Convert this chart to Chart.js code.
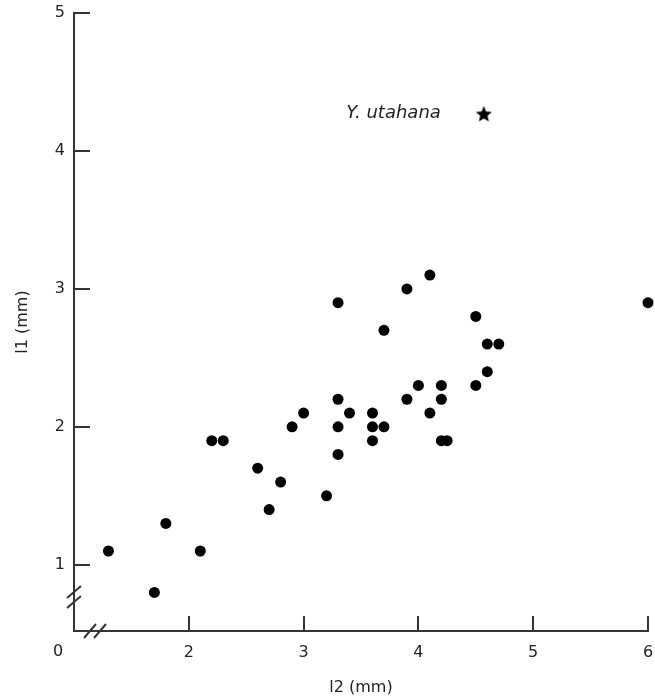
<!DOCTYPE html>
<html>
<head>
<meta charset="utf-8">
<script src="https://cdn.jsdelivr.net/npm/chart.js@4"></script>
<style>
  html, body { margin: 0; padding: 0; background: #fff; }
  #wrap { width: 655px; height: 698px; }
</style>
</head>
<body>
<div id="wrap"><canvas id="scatter"></canvas></div>
<script>
// l2 (x) and l1 (y) lengths in mm
const l2 = [1.3, 1.7, 1.8, 2.1, 2.2, 2.3, 2.6, 2.7, 2.8, 2.9, 3.0, 3.2, 3.3, 3.3, 3.3, 3.3, 3.4, 3.6, 3.6,
            3.6, 3.7, 3.7, 3.9, 3.9, 4.0, 4.1, 4.1, 4.2, 4.2, 4.2, 4.25, 4.5, 4.5, 4.6, 4.6, 4.7, 6.0];
const l1 = [1.1, 0.8, 1.3, 1.1, 1.9, 1.9, 1.7, 1.4, 1.6, 2.0, 2.1, 1.5, 2.9, 2.2, 2.0, 1.8, 2.1, 2.1, 2.0,
            1.9, 2.7, 2.0, 3.0, 2.2, 2.3, 3.1, 2.1, 2.3, 2.2, 1.9, 1.9, 2.8, 2.3, 2.6, 2.4, 2.6, 2.9];

const utahanaX = [4.57];
const utahanaY = [4.27];
const utahanaLabel = 'Y. utahana';

const xTicks = [2, 3, 4, 5, 6];
const yTicks = [1, 2, 3, 4, 5];
const originLabel = '0';

const ink = '#222';
const axisColor = '#333';

function makeStar(size) {
    const c = document.createElement('canvas');
    c.width = size;
    c.height = size;
    const g = c.getContext('2d');
    const cx = size / 2, cy = size / 2 + 0.8;
    const outer = size / 2, inner = outer * 0.45;
    g.beginPath();
    for (let i = 0; i < 10; i++) {
        const r = i % 2 ? inner : outer;
        const a = -Math.PI / 2 + i * Math.PI / 5;
        g.lineTo(cx + r * Math.cos(a), cy + r * Math.sin(a));
    }
    g.closePath();
    g.fillStyle = '#000';
    g.fill();
    return c;
}

// inward tick marks, axis breaks, the origin "0" and the species label
const extras = {
    id: 'extras',
    afterDraw(chart) {
        const ctx = chart.ctx;
        const x = chart.scales.x, y = chart.scales.y;
        const x0 = chart.chartArea.left, y0 = chart.chartArea.bottom;
        ctx.save();
        ctx.strokeStyle = axisColor;
        ctx.lineWidth = 2;
        ctx.beginPath();
        xTicks.forEach(v => {
            const px = Math.round(x.getPixelForValue(v));
            ctx.moveTo(px, y0);
            ctx.lineTo(px, y0 - 15);
        });
        yTicks.forEach(v => {
            const py = Math.round(y.getPixelForValue(v));
            ctx.moveTo(x0, py);
            ctx.lineTo(x0 + 16, py);
        });
        ctx.stroke();

        // break marks
        ctx.beginPath();
        [592, 602].forEach(py => {
            ctx.moveTo(x0 - 7, py + 6);
            ctx.lineTo(x0 + 7, py - 6);
        });
        [90, 100].forEach(px => {
            ctx.moveTo(px - 6, y0 + 7);
            ctx.lineTo(px + 6, y0 - 7);
        });
        ctx.stroke();

        ctx.fillStyle = ink;
        ctx.font = '16px "DejaVu Sans"';
        ctx.textAlign = 'center';
        ctx.textBaseline = 'middle';
        ctx.fillText(originLabel, x0 - 16, y0 + 21);

        ctx.font = 'italic 18px "DejaVu Sans"';
        ctx.textAlign = 'right';
        ctx.fillText(utahanaLabel, x.getPixelForValue(utahanaX[0]) - 43, y.getPixelForValue(utahanaY[0]));
        ctx.restore();
    }
};

new Chart(document.getElementById('scatter'), {
    type: 'scatter',
    data: {
        datasets: [{
            data: l2.map((v, i) => ({x: v, y: l1[i]})),
            backgroundColor: '#000',
            borderWidth: 0,
            pointRadius: 5.5,
            pointHoverRadius: 5.5,
            clip: false
        }, {
            data: utahanaX.map((v, i) => ({x: v, y: utahanaY[i]})),
            pointStyle: makeStar(17),
            clip: false
        }]
    },
    options: {
        responsive: true,
        maintainAspectRatio: false,
        animation: false,
        events: [],
        layout: {padding: {top: 13, right: 7, left: 0, bottom: 0}},
        plugins: {legend: {display: false}, tooltip: {enabled: false}},
        scales: {
            x: {
                type: 'linear',
                min: 1,
                max: 6,
                afterBuildTicks: s => { s.ticks = xTicks.map(v => ({value: v})); },
                afterFit: s => { s.height = 67; s.paddingLeft = 0; s.paddingRight = 0; },
                grid: {display: false, drawTicks: false},
                border: {color: axisColor, width: 2},
                ticks: {color: ink, padding: 12, maxRotation: 0, font: {family: 'DejaVu Sans', size: 16}},
                title: {display: true, text: 'l2 (mm)', color: ink, padding: {top: 0, bottom: 1},
                        font: {family: 'DejaVu Sans', size: 16}}
            },
            y: {
                type: 'linear',
                min: 0.52,
                max: 5,
                afterBuildTicks: s => { s.ticks = yTicks.map(v => ({value: v})); },
                afterFit: s => { s.width = 74; s.paddingTop = 0; s.paddingBottom = 0; },
                grid: {display: false, drawTicks: false},
                border: {color: axisColor, width: 2},
                ticks: {color: ink, padding: 9, font: {family: 'DejaVu Sans', size: 16}},
                title: {display: true, text: 'l1 (mm)', color: ink, padding: {top: 13, bottom: 0},
                        font: {family: 'DejaVu Sans', size: 16}}
            }
        }
    },
    plugins: [extras]
});
</script>
</body>
</html>
